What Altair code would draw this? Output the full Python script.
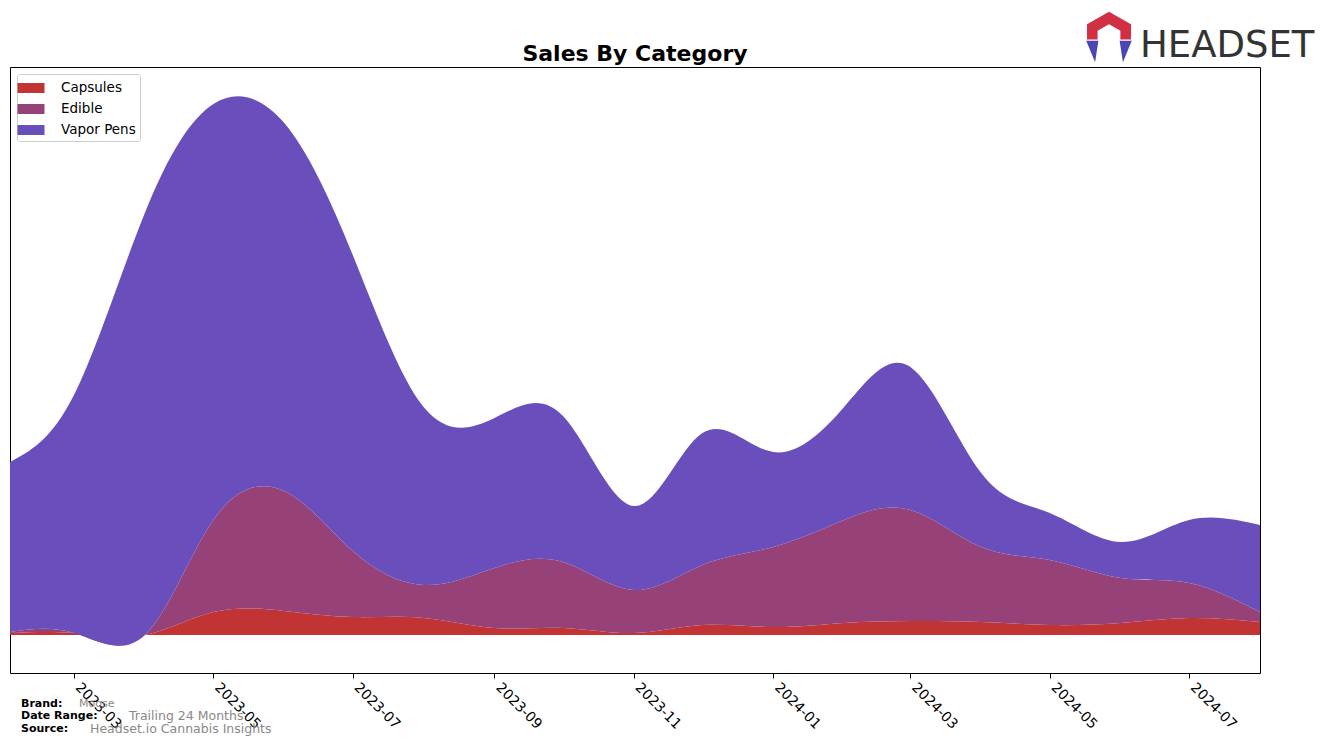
import altair as alt
import pandas as pd

# ---- data (arbitrary units) ----
months = ["2023-02", "2023-03", "2023-04", "2023-05", "2023-06", "2023-07",
          "2023-08", "2023-09", "2023-10", "2023-11", "2023-12", "2024-01",
          "2024-02", "2024-03", "2024-04", "2024-05", "2024-06", "2024-07",
          "2024-08"]
capsules = [2, 2, 0, 23, 24, 18, 17, 7, 7, 2, 10, 8, 12, 14, 13, 10, 12, 17, 13]
edible = [1, 0, 0, 92, 120, 66, 33, 60, 66, 43, 60, 80, 103, 111, 75, 65, 45, 35, 10]
vapor_pens = [170, 238, 422, 416, 368, 296, 178, 150, 146, 84, 132, 95, 113, 143,
              74, 47, 36, 63, 87]
categories = ["Capsules", "Edible", "Vapor Pens"]
colors = ["#C23434", "#964278", "#6A4FBC"]
tick_months = ["2023-03", "2023-05", "2023-07", "2023-09", "2023-11",
               "2024-01", "2024-03", "2024-05", "2024-07"]

title = "Sales By Category"
brand = "Moose"
date_range = "Trailing 24 Months"
source = "Headset.io Cannabis Insights"

rows = []
for cat_i, (cat, vals) in enumerate(zip(categories, [capsules, edible, vapor_pens])):
    for m, v in zip(months, vals):
        rows.append({"month": m + "-01T00:00:00", "category": cat, "sales": v, "ord": cat_i})
df = pd.DataFrame(rows)

FONT = "DejaVu Sans"
W, H = 1250, 606

tick_vals = [alt.DateTime(year=int(t[:4]), month=int(t[5:]), date=1) for t in tick_months]

legend_symbol = "M-1.35,-0.5 L1.35,-0.5 L1.35,0.5 L-1.35,0.5 Z"

area = alt.Chart(df).mark_area(interpolate="natural", opacity=1).encode(
    x=alt.X("month:T",
            scale=alt.Scale(domain=[alt.DateTime(year=2023, month=2, date=1),
                                    alt.DateTime(year=2024, month=8, date=1)], nice=False),
            axis=alt.Axis(values=tick_vals, format="%Y-%m", title=None, labelAngle=45,
                          labelAlign="left", labelBaseline="middle", labelFontSize=14,
                          labelFont=FONT, labelColor="black", tickColor="black",
                          tickSize=5, domain=False, grid=False, labelPadding=7,
                          labelOffset=3, labelOverlap=False)),
    y=alt.Y("sales:Q", stack="zero",
            scale=alt.Scale(domain=[-38, 568], nice=False, zero=False),
            axis=None),
    color=alt.Color("category:N",
                    scale=alt.Scale(domain=categories, range=colors),
                    legend=alt.Legend(title=None, orient="none", legendX=7, legendY=7,
                                      labelFont=FONT, labelFontSize=13.5,
                                      labelColor="black", symbolType=legend_symbol,
                                      symbolSize=400, symbolStrokeWidth=0,
                                      symbolOpacity=1, rowPadding=4, labelOffset=20,
                                      padding=4, fillColor="white",
                                      strokeColor="#cccccc", cornerRadius=3)),
    order=alt.Order("ord:Q", sort="ascending"),
)

def txt(s, x, y, size, color, bold=False, font=FONT, align="left"):
    return alt.Chart(pd.DataFrame({"t": [s]})).mark_text(
        align=align, baseline="alphabetic", fontSize=size, font=font,
        fontWeight="bold" if bold else "normal", color=color,
    ).encode(x=alt.value(x), y=alt.value(y), text="t:N")

title_mark = txt(title, 625, -6, 22, "black", bold=True, align="center")

footer = [
    txt("Brand:", 11, 640, 11, "black", bold=True),
    txt("Date Range:", 11, 652, 11, "black", bold=True),
    txt("Source:", 11, 665, 11, "black", bold=True),
    txt(brand, 69, 640, 11, "#888888"),
    txt(date_range, 119, 653, 12.5, "#888888"),
    txt(source, 80, 666, 12.5, "#888888"),
]

logo_text = txt("HEADSET", 1130, -10, 37, "#333333")

top_path = ("M-0.87,0.1 L-0.87,-0.5 L0,-1 L0.87,-0.5 L0.87,0.1 L0.45,0.1 "
            "L0.45,-0.25 L0,-0.5 L-0.45,-0.25 L-0.45,0.1 Z")
feet_path = ("M-0.9,0.15 L-0.42,0.15 L-0.55,1 Z M0.9,0.15 L0.42,0.15 L0.55,1 Z")
icon_df = pd.DataFrame({"k": [0]})
icon_top = alt.Chart(icon_df).mark_point(shape=top_path, filled=True, size=2560,
                                         color="#D12F43", opacity=1).encode(
    x=alt.value(1099), y=alt.value(-30))
icon_feet = alt.Chart(icon_df).mark_point(shape=feet_path, filled=True, size=2560,
                                          color="#4B45B5", opacity=1).encode(
    x=alt.value(1099), y=alt.value(-30))

chart = alt.layer(area, title_mark, *footer, logo_text, icon_top, icon_feet).properties(
    width=W, height=H,
    autosize=alt.AutoSizeParams(type="none"),
    padding={"left": 10, "top": 67, "right": 64, "bottom": 71},
).configure(background="white",
            view=alt.ViewConfig(stroke="black", strokeWidth=1))

chart.save("out.html", embed_options={"renderer": "svg", "actions": False})
